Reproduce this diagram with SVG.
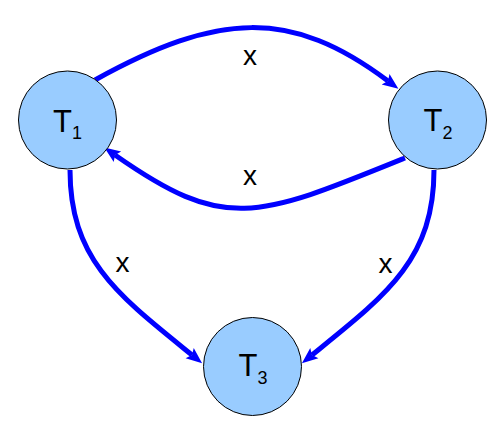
<svg xmlns="http://www.w3.org/2000/svg" width="504" height="433" viewBox="0 0 504 433">
<style>
.node{fill:#99ccff;stroke:#000;stroke-width:1}
.edge{fill:none;stroke:#0000ff;stroke-width:5}
.lbl{font-family:"Liberation Sans",Arial,sans-serif;fill:#000;text-anchor:middle}
.nl{font-size:31px}
.el{font-size:28px}
</style>
<defs>
<marker id="arr" markerUnits="userSpaceOnUse" markerWidth="20" markerHeight="16" viewBox="0 -8 20 16" refX="3" refY="0" orient="auto">
<path d="M0,-6.5 L16,0 L0,6.5 L3,0 z" fill="#0000ff"/>
</marker>
</defs>
<rect width="504" height="433" fill="#fff"/>
<g id="connectors">
<path class="edge" marker-end="url(#arr)" d="M95,80 C218,12 291,8 388,81"/>
<path class="edge" marker-end="url(#arr)" d="M405,158 C255,219 225,232 115,155"/>
<path class="edge" marker-end="url(#arr)" d="M70,170 C70,260 119,296 192,355"/>
<path class="edge" marker-end="url(#arr)" d="M434,170 C434,260 385,296 312,355"/>
<text class="lbl el" x="250" y="65">x</text>
<text class="lbl el" x="250" y="185">x</text>
<text class="lbl el" x="122.5" y="272">x</text>
<text class="lbl el" x="385.5" y="273">x</text>
</g>
<g id="T1">
<circle class="node" cx="67.5" cy="120" r="49"/>
<text class="lbl nl" x="67.5" y="132">T<tspan font-size="18" dy="7">1</tspan></text>
</g>
<g id="T2">
<circle class="node" cx="437.5" cy="120" r="49"/>
<text class="lbl nl" x="438" y="131">T<tspan font-size="18" dy="8">2</tspan></text>
</g>
<g id="T3">
<circle class="node" cx="252.5" cy="366.5" r="49"/>
<text class="lbl nl" x="253" y="376">T<tspan font-size="18" dy="8">3</tspan></text>
</g>
</svg>
